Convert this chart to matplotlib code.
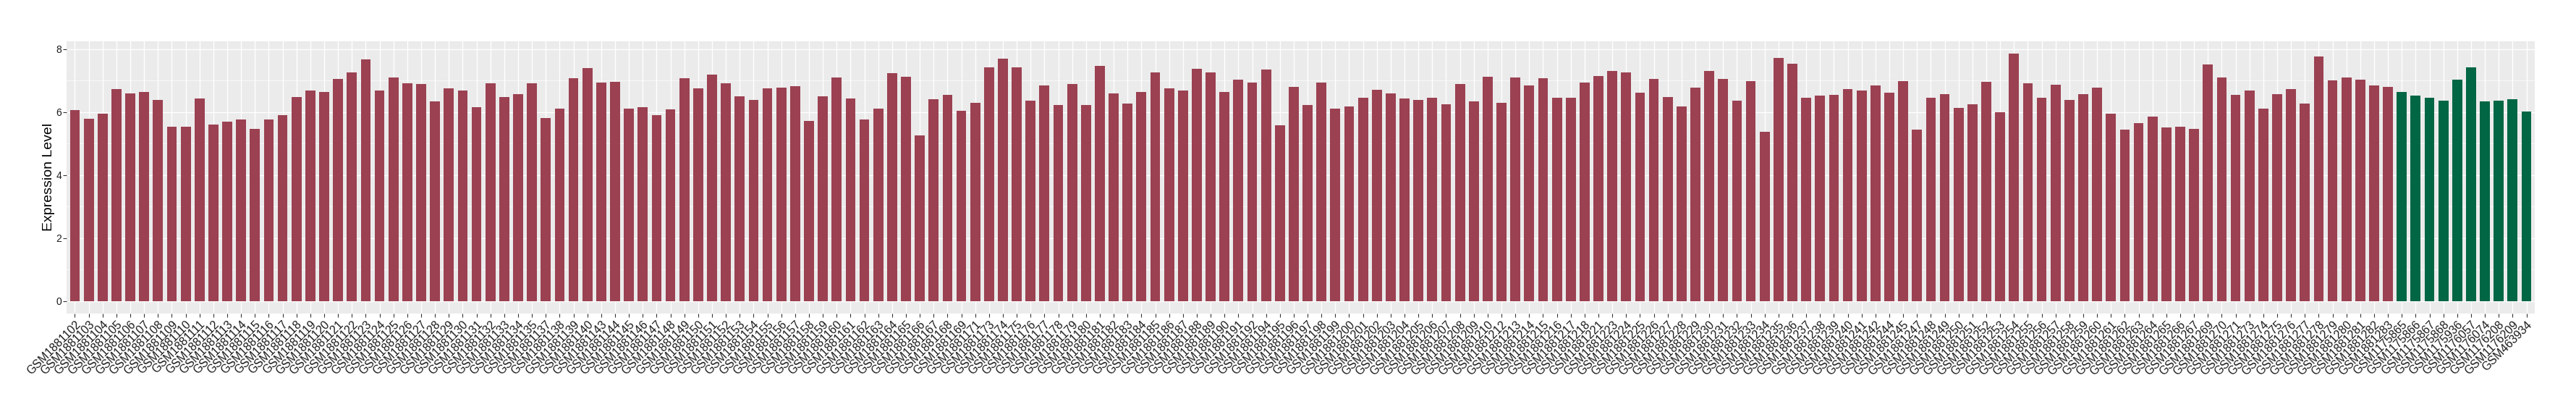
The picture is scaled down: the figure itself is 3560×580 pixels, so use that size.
import matplotlib
matplotlib.use("Agg")
import matplotlib.pyplot as plt
from matplotlib.ticker import MultipleLocator

plt.rcParams['font.family'] = ['Liberation Sans', 'DejaVu Sans']

# ---- data ----
red_ids = ([f"GSM1881{n}" for n in range(102, 136)] +
           [f"GSM1881{n}" for n in range(137, 141)] +
           [f"GSM1881{n}" for n in range(143, 170)] +
           ["GSM1881171"] +
           [f"GSM1881{n}" for n in range(173, 193)] +
           [f"GSM1881{n}" for n in range(194, 211)] +
           [f"GSM1881{n}" for n in range(212, 219)] +
           ["GSM1881221"] +
           [f"GSM1881{n}" for n in range(223, 243)] +
           ["GSM1881244", "GSM1881245"] +
           [f"GSM1881{n}" for n in range(247, 268)] +
           ["GSM1881269", "GSM1881270", "GSM1881271"] +
           [f"GSM1881{n}" for n in range(273, 284)])

red_values = [
    # 102-127
    6.06, 5.79, 5.95, 6.73, 6.59, 6.63, 6.38, 5.54, 5.54, 6.43,
    5.60, 5.70, 5.76, 5.46, 5.76, 5.90, 6.48, 6.68, 6.63, 7.05,
    7.25, 7.67, 6.68, 7.09, 6.91, 6.90,
    # 128-135
    6.33, 6.75, 6.68, 6.16, 6.91, 6.48, 6.57, 6.91,
    # 137-140
    5.81, 6.11, 7.07, 7.40,
    # 143-169
    6.94, 6.95, 6.11, 6.16, 5.90, 6.08, 7.07, 6.75, 7.19, 6.91,
    6.49, 6.38, 6.75, 6.78, 6.82, 5.71, 6.49, 7.09, 6.43, 5.76,
    6.11, 7.24, 7.12, 5.25, 6.41, 6.54, 6.04,
    # 171
    6.29,
    # 173-192
    7.41, 7.70, 7.41, 6.36, 6.84, 6.22, 6.89, 6.22, 7.46, 6.59,
    6.27, 6.63, 7.25, 6.75, 6.68, 7.37, 7.25, 6.63, 7.03, 6.94,
    # 194-210
    7.35, 5.58, 6.79, 6.22, 6.94, 6.11, 6.17, 6.45, 6.70, 6.59,
    6.43, 6.38, 6.45, 6.24, 6.89, 6.33, 7.12,
    # 212-218
    6.29, 7.09, 6.84, 7.07, 6.45, 6.45, 6.94,
    # 221
    7.14,
    # 223-242
    7.30, 7.25, 6.62, 7.05, 6.48, 6.17, 6.78, 7.30, 7.05, 6.36,
    6.98, 5.37, 7.71, 7.53, 6.45, 6.52, 6.54, 6.73, 6.68, 6.84,
    # 244-245
    6.62, 6.98,
    # 247-267
    5.44, 6.45, 6.57, 6.13, 6.24, 6.95, 6.00, 7.86, 6.91, 6.45,
    6.87, 6.38, 6.57, 6.78, 5.95, 5.44, 5.65, 5.86, 5.51, 5.54,
    5.46,
    # 269-271
    7.51, 7.09, 6.54,
    # 273-283
    6.68, 6.11, 6.57, 6.73, 6.27, 7.76, 7.00, 7.09, 7.03, 6.84, 6.79,
]

green_ids = ["GSM1175865", "GSM1175866", "GSM1175867", "GSM1175868",
             "GSM1175936", "GSM1176057", "GSM1176074", "GSM1176208",
             "GSM1176209", "GSM463934"]
green_values = [6.63, 6.52, 6.45, 6.36, 7.03, 7.41, 6.33, 6.36, 6.41, 6.01]

RED = "#9B4152"
GREEN = "#006644"

labels = red_ids + green_ids
values = red_values + green_values
colors = [RED] * len(red_ids) + [GREEN] * len(green_ids)

# ---- figure ----
W, H = 3560, 580
fig = plt.figure(figsize=(W / 100, H / 100), dpi=100)
left, right, top, bottom = 92, 3503, 56.7, 432.7
ax = fig.add_axes([left / W, 1 - bottom / H, (right - left) / W, (bottom - top) / H])
ax.set_facecolor("#EBEBEB")
for s in ax.spines.values():
    s.set_visible(False)

n = len(labels)
ax.bar(labels, values, width=0.72, color=colors, zorder=3)

ax.set_xlim(-0.6, n - 1 + 0.6)
vmax = max(values)
ax.set_ylim(-0.05 * vmax, 1.05 * vmax)

ax.yaxis.set_major_locator(MultipleLocator(2))
ax.yaxis.set_minor_locator(MultipleLocator(1))
ax.grid(which="major", axis="both", color="white", linewidth=1.0, zorder=0)
ax.grid(which="minor", axis="y", color="white", linewidth=0.5, zorder=0)
ax.set_axisbelow(True)

ax.tick_params(axis="both", which="major", length=3.5, width=0.8, color="#333333")
ax.tick_params(axis="y", which="minor", length=0)
ax.tick_params(axis="y", labelsize=10, labelcolor="#1a1a1a", pad=1.5)
ax.tick_params(axis="x", labelsize=11.5, labelcolor="#1a1a1a", pad=2)

ax.set_xticks(range(n))
ax.set_xticklabels(labels, rotation=45, ha="right", va="top", rotation_mode="anchor")

fig.text(72.5 / W, 1 - ((top + bottom) / 2) / H, "Expression Level", rotation=90,
         rotation_mode="anchor", ha="center", va="baseline", fontsize=14, color="black")

fig.savefig("out.png", dpi=100, facecolor="white")
